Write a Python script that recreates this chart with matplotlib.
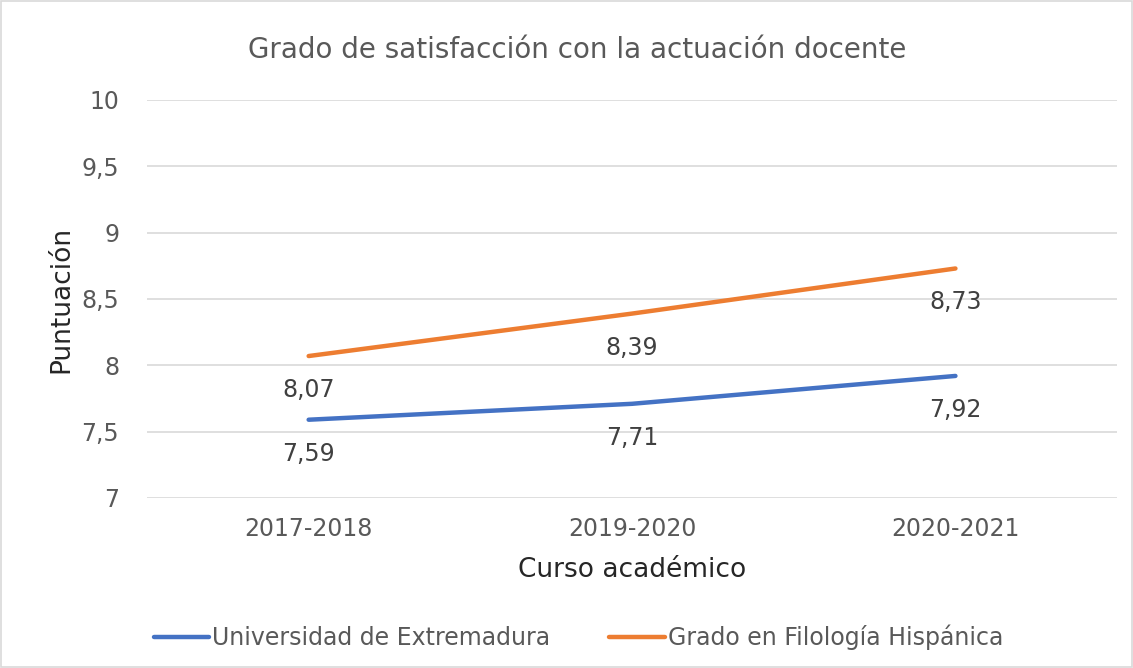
import numpy as np
import matplotlib.pyplot as plt
from matplotlib.patches import Rectangle

cursos = ['2017-2018', '2019-2020', '2020-2021']
uex = [7.59, 7.71, 7.92]
filologia = [8.07, 8.39, 8.73]
yticks = [7, 7.5, 8, 8.5, 9, 9.5, 10]
ytick_labels = ['7', '7,5', '8', '8,5', '9', '9,5', '10']

txt = '#595959'
plt.rcParams['font.family'] = ['DejaVu Sans']

fig = plt.figure(figsize=(11.33, 6.68), dpi=100)
ax = fig.add_axes([0.1297, 0.2545, 0.8563, 0.5958])

x = np.arange(len(cursos))
ax.plot(x, uex, color='#4472C4', lw=3.2, solid_capstyle='round', label='Universidad de Extremadura', zorder=3)
ax.plot(x, filologia, color='#ED7D31', lw=3.2, solid_capstyle='round', label='Grado en Filología Hispánica', zorder=3)

for xi, v in zip(x, uex):
    ax.annotate(f'{v:.2f}'.replace('.', ','), (xi, v), xytext=(0, -34), textcoords='offset pixels',
                ha='center', va='center', fontsize=17, color='#404040')
for xi, v in zip(x, filologia):
    ax.annotate(f'{v:.2f}'.replace('.', ','), (xi, v), xytext=(0, -34), textcoords='offset pixels',
                ha='center', va='center', fontsize=17, color='#404040')

ax.set_xlim(-0.5, 2.5)
ax.set_ylim(7, 10)
ax.set_yticks(yticks)
ax.set_yticklabels(ytick_labels)
ax.set_xticks(x)
ax.set_xticklabels(cursos)
ax.tick_params(axis='both', length=0, labelsize=17, colors=txt)
ax.tick_params(axis='y', pad=20)
ax.tick_params(axis='x', pad=14)
ax.grid(axis='y', color='#D9D9D9', lw=1.2)
for s in ax.spines.values():
    s.set_visible(False)

ax.set_xlabel('Curso académico', fontsize=19, color='#262626', labelpad=11)
ax.set_ylabel('Puntuación', fontsize=19, color='#262626', labelpad=5)
fig.text(0.509, 0.925, 'Grado de satisfacción con la actuación docente', ha='center', va='center',
         fontsize=20, color=txt)

fig.legend(loc='center', bbox_to_anchor=(0.5105, 0.046), ncol=2, frameon=False, fontsize=17,
           handlelength=2.35, columnspacing=2.5, handletextpad=0.12, labelcolor=txt)

fig.patches.append(Rectangle((0.001, 0.001), 0.998, 0.997, transform=fig.transFigure,
                             fill=False, edgecolor='#D9D9D9', lw=1.2))

fig.savefig('out.png', dpi=100)
